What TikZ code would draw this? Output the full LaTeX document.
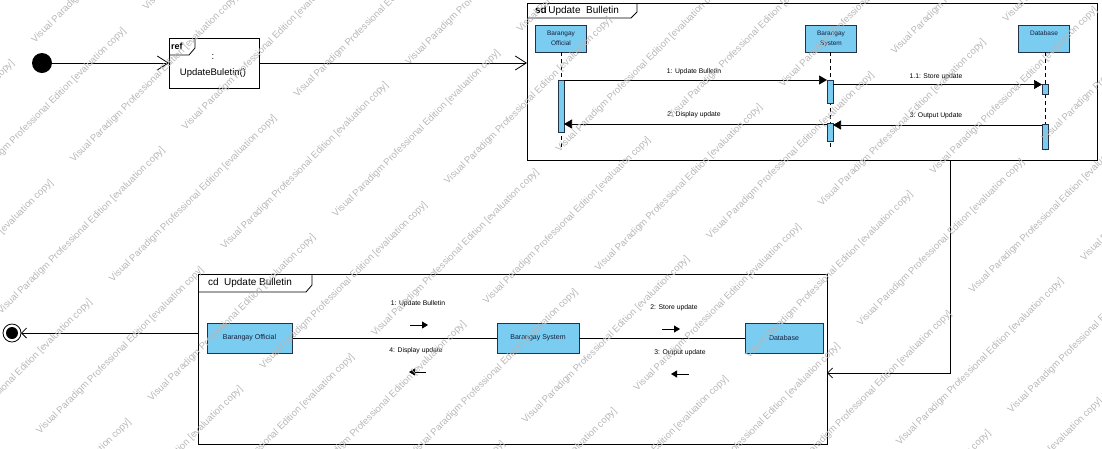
\documentclass[tikz,border=0pt]{standalone}
\usepackage{fontspec}
\setmainfont{Liberation Sans}
\usetikzlibrary{arrows.meta}
\definecolor{vpfill}{RGB}{122,204,240}
\definecolor{vpline}{RGB}{35,50,70}
\definecolor{vptext}{RGB}{20,30,60}
\begin{document}
\begin{tikzpicture}[x=1pt,y=-1pt,
  every node/.style={inner sep=0pt, outer sep=0pt},
  ln/.style={line width=0.8pt, draw=black},
  lifebox/.style={draw=vpline, line width=0.7pt, fill=vpfill, minimum width=51pt, minimum height=27pt, align=center, font=\fontsize{6.5}{10}\selectfont, text=vptext},
  actbar/.style={draw=vpline, line width=0.6pt, fill=vpfill, minimum width=6pt},
  objbox/.style={draw=vpline, line width=0.7pt, fill=vpfill, minimum height=30pt, font=\fontsize{7}{8}\selectfont, text=vptext},
  framebox/.style={draw, line width=0.8pt},
  msg/.style={line width=0.7pt, -{Triangle[length=8pt,width=9pt]}},
  lbl/.style={font=\fontsize{6.8}{8}\selectfont},
  flow/.style={line width=0.8pt, -{Straight Barb[length=11pt,width=14pt]}},
  flowsm/.style={line width=0.8pt, -{Straight Barb[length=5pt,width=10pt]}},
  dirarrow/.style={line width=0.8pt, -{Triangle[length=6pt,width=7pt]}},
  lifeline/.style={line width=0.6pt, dash pattern=on 4pt off 3pt},
  wm/.style={font=\fontsize{9.6}{10}\selectfont, text=black!28, rotate=45, anchor=east},
]
\useasboundingbox (0,0) rectangle (1102,448);

% ---- activity flow: initial -> ref
\node[circle, fill=black, minimum size=20pt] (init) at (42,63) {};
\node[framebox, minimum width=90pt, minimum height=50pt] (ref) at (214,63) {};
\draw[framebox] (ref.north west) ++(26,0) -- ++(0,10) -- ++(-6,7) -- ++(-20,0);
\node[anchor=west, font=\bfseries\fontsize{9}{10}\selectfont] (reftag) at (171,46) {ref};
\node[font=\fontsize{9.5}{11}\selectfont] (refcolon) at (213,57) {:};
\node[font=\fontsize{9.5}{11}\selectfont] (reftxt) at (213,73) {UpdateBuletin()};
\draw[flow] (init) -- (ref.west);

% ---- sequence frame
\node[framebox, minimum width=570pt, minimum height=157pt] (sd) at (812,81.5) {};
\draw[framebox] (sd.north west) ++(110,0) -- ++(0,9) -- ++(-6,6) -- ++(-104,0);
\node[anchor=west, font=\fontsize{10}{12}\selectfont] (sdtitle) at (535,10.5) {\textbf{sd}\,Update\ \ Bulletin};
\draw[flow] (ref.east) -- (sd.west |- ref.east);

\node[lifebox] (lo) at (561,38.5) {Barangay\\Official};
\node[lifebox] (ls) at (831,38.5) {Barangay\\System};
\node[lifebox] (ld) at (1044,38.5) {Database\\\phantom{X}};
\coordinate (loe) at (561,147);
\coordinate (lse) at (830,147);
\coordinate (lde) at (1045,150);
\draw[lifeline] (lo.south) -- (loe);
\draw[lifeline] (ls.south -| lse) -- (lse);
\draw[lifeline] (ld.south -| lde) -- (lde);

\node[actbar, minimum height=52pt] (oa) at (561,106) {};
\node[actbar, minimum height=23pt] (sa1) at (830,91.5) {};
\node[actbar, minimum height=18pt] (sa2) at (830,132) {};
\node[actbar, minimum height=10pt] (da1) at (1045,89.5) {};
\node[actbar, minimum height=25pt] (da2) at (1045,136.5) {};

\draw[msg] (oa.north east) -- (sa1.north west);
\node[lbl] (m1) at (694,72) {1: Update Bulletin};
\draw[msg] (sa1.east |- da1.north) -- (da1.north west);
\node[lbl] (m11) at (936,77) {1.1: Store update};
\draw[msg] (da2.west |- 0,125) -- (sa2.east |- 0,125);
\node[lbl] (m3) at (936,116) {3: Output Update};
\draw[msg] (sa2.west |- 0,124) -- (oa.east |- 0,124);
\node[lbl] (m2) at (694,115) {2: Display update};

% ---- communication frame
\node[framebox, minimum width=629pt, minimum height=170pt] (cd) at (512.5,359) {};
\draw[framebox] (cd.north west) ++(114,0) -- ++(0,11) -- ++(-6,7) -- ++(-108,0);
\node[anchor=west, font=\fontsize{10}{12}\selectfont] (cdtitle) at (208,283) {cd\ \ Update Bulletin};
\coordinate (bend) at (950,373);
\draw[flowsm] (sd.south -| bend) -- (bend) -- (cd.east |- bend);

\node[objbox, minimum width=85pt] (co) at (249.5,338) {Barangay Official};
\node[objbox, minimum width=82pt] (cs) at (538,338) {Barangay System};
\node[objbox, minimum width=78pt] (cdb) at (784,338) {Database};
\draw[ln] (co) -- (cs);
\draw[ln] (cs) -- (cdb);

\node[lbl] (c1) at (418,304) {1: Update Bulletin};
\coordinate (c1a) at (410,325); \coordinate (c1b) at (428,325);
\draw[dirarrow] (c1a) -- (c1b);
\node[lbl] (c4) at (416,351) {4: Display update};
\coordinate (c4a) at (426,372); \coordinate (c4b) at (409,372);
\draw[dirarrow] (c4a) -- (c4b);
\node[lbl] (c2) at (674,308) {2: Store update};
\coordinate (c2a) at (662,329); \coordinate (c2b) at (680,329);
\draw[dirarrow] (c2a) -- (c2b);
\node[lbl] (c3) at (680,353) {3: Output update};
\coordinate (c3a) at (689,374); \coordinate (c3b) at (671,374);
\draw[dirarrow] (c3a) -- (c3b);

% ---- final node
\node[circle, draw, line width=0.8pt, fill=white, minimum size=18pt] (fin) at (12,333) {};
\node[circle, fill=black, minimum size=12pt] (fininner) at (fin.center) {};
\draw[flowsm] (cd.west |- fin) -- (fin);

% ---- watermark
\begin{scope}
\clip (0,0) rectangle (1102,448);
\foreach \k in {-18,...,8}{
  \foreach \j in {-8,...,8}{
    \pgfmathsetmacro{\wx}{1062+111.7*\k+184.5*\j}
    \pgfmathsetmacro{\wy}{280-32.5*\k-184.5*\j}
    \pgfmathparse{(\wx>-20)&&(\wx<1300)&&(\wy>-200)&&(\wy<650)?1:0}
    \ifnum\pgfmathresult=1
      \node[wm] at (\wx,\wy) {Visual Paradigm Professional Edition [evaluation copy]};
    \fi
  }
}
\end{scope}
\end{tikzpicture}
\end{document}
